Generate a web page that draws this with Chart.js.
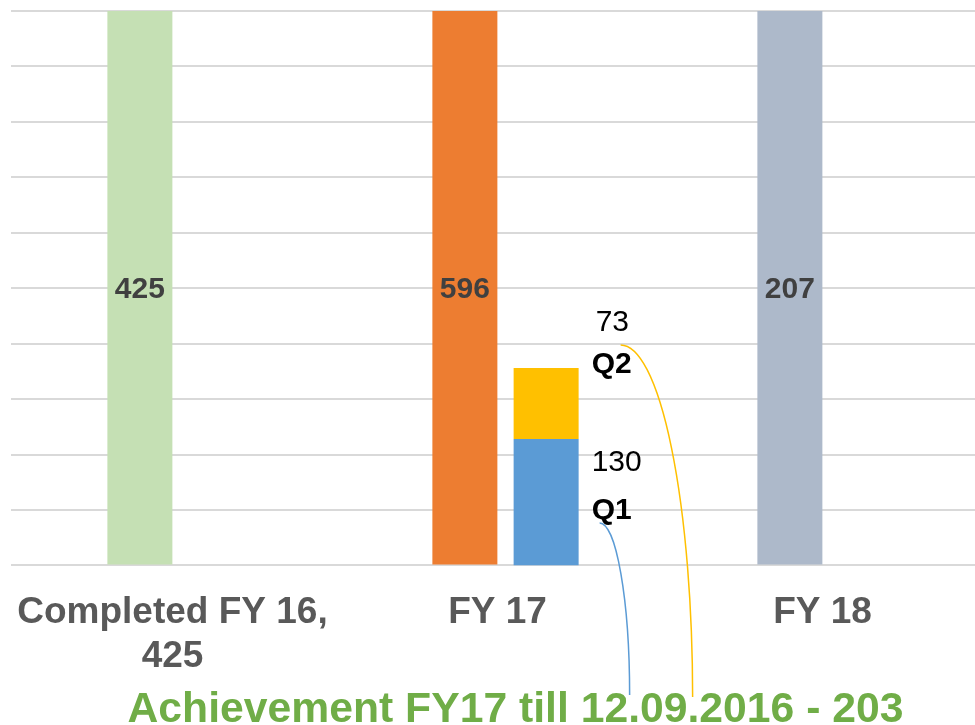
<!DOCTYPE html>
<html>
<head>
<meta charset="utf-8">
<title>Achievement FY17</title>
<script src="https://cdn.jsdelivr.net/npm/chart.js@4.4.0/dist/chart.umd.min.js"></script>
<style>
  html, body { margin: 0; padding: 0; background: #fff; overflow: hidden; }
  canvas { display: block; }
</style>
</head>
<body>
<canvas id="myBarChart" width="1000" height="725"></canvas>
<script>
// datos del grafico
const categories = [['Completed FY 16,', '425'], 'FY 17', 'FY 18'];
const totals = [425, 596, 207];
const totalColors = ['#C5E0B4', '#ED7D31', '#ADB9CA'];
const q1Values = [null, 130, null];
const q2Values = [null, 73, null];
const quarterNames = ['Q1', 'Q2'];
const achievementText = 'Achievement FY17 till 12.09.2016 - 203';

const font = '"Liberation Sans", Arial, sans-serif';

// etiquetas, conectores y titulo de abajo
const labelsPlugin = {
  id: 'labelsPlugin',
  afterDatasetsDraw(chart) {
    const ctx = chart.ctx;
    const area = chart.chartArea;
    ctx.save();

    ctx.font = `bold 30px ${font}`;
    ctx.fillStyle = '#404040';
    ctx.textAlign = 'center';
    ctx.textBaseline = 'middle';
    chart.getDatasetMeta(0).data.forEach((bar, i) => {
      const top = Math.max(bar.y, area.top);
      ctx.fillText(totals[i], bar.x, (top + bar.base) / 2 + 2);
    });

    const idx = q1Values.findIndex(v => v !== null);
    const b1 = chart.getDatasetMeta(1).data[idx];
    const b2 = chart.getDatasetMeta(2).data[idx];
    const xl = b1.x + b1.width / 2 + 13;

    const y73 = b2.y - 45;
    const yQ2 = b2.y - 3;
    const y130 = b1.y + 24;
    const yQ1 = b1.y + 72;

    ctx.textAlign = 'left';
    ctx.fillStyle = '#000000';
    ctx.font = `30px ${font}`;
    ctx.fillText(q2Values[idx], xl + 4, y73);
    ctx.fillText(q1Values[idx], xl, y130);
    ctx.font = `bold 30px ${font}`;
    ctx.fillText(quarterNames[1], xl, yQ2);
    ctx.fillText(quarterNames[0], xl, yQ1);

    // titulo
    const xScale = chart.scales.x;
    const baseline = xScale.bottom + 26;
    const titleTop = baseline - 30;
    ctx.font = `bold 42.7px ${font}`;
    ctx.fillStyle = '#70AD47';
    ctx.textAlign = 'center';
    ctx.textBaseline = 'alphabetic';
    ctx.fillText(achievementText, (area.left + area.right) / 2 + 10, baseline);

    // conectores
    ctx.lineWidth = 1.5;
    const connector = (x0, y0, x1, y1, color) => {
      ctx.strokeStyle = color;
      ctx.beginPath();
      ctx.ellipse(x0, y1, x1 - x0, y1 - y0, 0, -Math.PI / 2, 0);
      ctx.stroke();
    };
    connector(xl + 8, yQ1 + 12, xl + 38, titleTop + 3, '#5B9BD5');
    connector(xl + 29, y73 + 22, xl + 101, titleTop + 5, '#FFC000');

    ctx.restore();
  }
};

const ctx = document.getElementById('myBarChart').getContext('2d');
window.myBarChart = new Chart(ctx, {
  type: 'bar',
  data: {
    labels: categories,
    datasets: [
      {
        label: 'Total',
        data: totals,
        backgroundColor: totalColors,
        yAxisID: 'y',
        stack: 'total'
      },
      {
        label: quarterNames[0],
        data: q1Values,
        backgroundColor: '#5B9BD5',
        yAxisID: 'yq',
        stack: 'quarters'
      },
      {
        label: quarterNames[1],
        data: q2Values,
        backgroundColor: '#FFC000',
        yAxisID: 'yq',
        stack: 'quarters'
      }
    ]
  },
  options: {
    responsive: false,
    animation: false,
    devicePixelRatio: 1,
    categoryPercentage: 0.5,
    barPercentage: 0.8,
    layout: { padding: { left: 11, right: 7, top: 11, bottom: 29 } },
    plugins: {
      legend: { display: false },
      tooltip: { enabled: false }
    },
    scales: {
      x: {
        grid: { display: false },
        border: { display: false },
        ticks: {
          color: '#595959',
          font: { family: font, size: 37, weight: 'bold', lineHeight: 1.17 },
          padding: 18,
          labelOffset: -8,
          maxRotation: 0,
          autoSkip: false
        }
      },
      y: {
        min: 0,
        max: 100,
        border: { display: false },
        grid: { color: '#D9D9D9', lineWidth: 2, drawTicks: true, tickLength: 7 },
        ticks: { display: false, stepSize: 10 }
      },
      yq: {
        display: false,
        stacked: true,
        min: 0,
        max: 570
      }
    }
  },
  plugins: [labelsPlugin]
});
</script>
</body>
</html>
